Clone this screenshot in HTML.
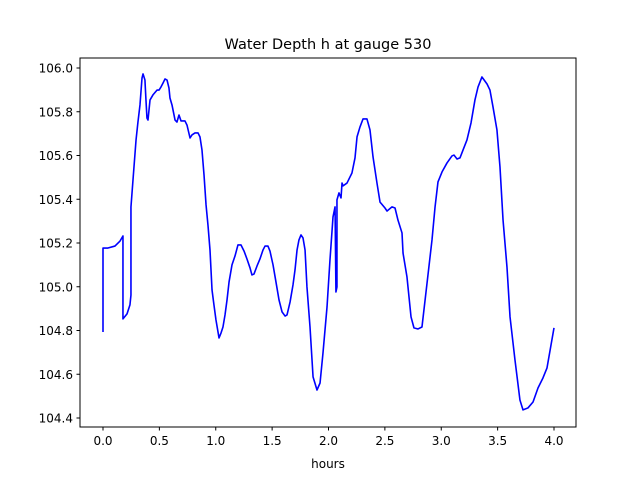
<!DOCTYPE html>
<html><head><meta charset="utf-8"><style>
body{margin:0;background:#fff;}
svg{display:block;font-family:"DejaVu Sans","Liberation Sans",sans-serif;}
</style></head><body>
<svg id="chart" width="640" height="480">
<rect width="640" height="480" fill="#fff"/>
<text x="328" y="49" font-size="14.5" text-anchor="middle">Water Depth h at gauge 530</text>
<g id="xticks"></g>
<g id="yticks"></g>
<path id="line" fill="none" stroke="#0000ff" stroke-width="1.6" stroke-linejoin="round"/>
<rect x="80" y="58" width="496" height="369" fill="none" stroke="#000" stroke-width="1"/>
<text x="328" y="468" font-size="12" text-anchor="middle">hours</text>
</svg>
<script>
const hours=[0,0,0.044,0.106,0.151,0.177,0.177,0.213,0.239,0.248,0.248,0.266,0.293,0.310,0.328,0.346,0.355,0.372,0.381,0.390,0.399,0.417,0.443,0.479,0.497,0.514,0.532,0.550,0.568,0.585,0.594,0.612,0.639,0.656,0.674,0.692,0.727,0.745,0.772,0.789,0.816,0.843,0.860,0.878,0.896,0.914,0.931,0.949,0.967,0.984,1.002,1.029,1.047,1.064,1.082,1.100,1.118,1.144,1.171,1.197,1.224,1.251,1.277,1.304,1.321,1.339,1.366,1.392,1.419,1.437,1.463,1.481,1.508,1.534,1.561,1.588,1.615,1.632,1.659,1.685,1.703,1.721,1.738,1.756,1.774,1.792,1.809,1.836,1.863,1.898,1.925,1.951,1.987,2.013,2.040,2.058,2.066,2.075,2.075,2.093,2.111,2.120,2.129,2.164,2.208,2.235,2.253,2.279,2.306,2.341,2.368,2.395,2.430,2.457,2.501,2.519,2.563,2.590,2.616,2.652,2.661,2.696,2.732,2.758,2.794,2.829,2.874,2.918,2.945,2.971,3.007,3.051,3.095,3.113,3.140,3.166,3.193,3.228,3.264,3.299,3.326,3.361,3.406,3.432,3.459,3.494,3.521,3.548,3.583,3.610,3.654,3.698,3.725,3.769,3.814,3.858,3.902,3.938,4.0];
const depth=[104.793,105.177,105.177,105.186,105.209,105.232,104.853,104.876,104.917,104.962,105.365,105.488,105.671,105.753,105.831,105.954,105.973,105.945,105.854,105.771,105.762,105.854,105.877,105.899,105.899,105.913,105.931,105.950,105.945,105.909,105.863,105.831,105.762,105.753,105.785,105.758,105.758,105.739,105.680,105.694,105.703,105.703,105.685,105.625,105.511,105.374,105.282,105.168,104.985,104.917,104.848,104.766,104.789,104.816,104.871,104.940,105.022,105.100,105.141,105.191,105.191,105.163,105.127,105.086,105.054,105.058,105.095,105.127,105.168,105.186,105.186,105.163,105.100,105.022,104.940,104.885,104.866,104.871,104.930,105.008,105.077,105.168,105.214,105.237,105.223,105.168,104.999,104.816,104.588,104.528,104.560,104.697,104.908,105.122,105.319,105.365,104.976,104.999,105.397,105.429,105.406,105.474,105.461,105.474,105.520,105.589,105.685,105.730,105.767,105.767,105.717,105.593,105.474,105.387,105.360,105.346,105.365,105.360,105.305,105.246,105.154,105.045,104.862,104.812,104.807,104.816,105.017,105.214,105.365,105.479,105.525,105.566,105.598,105.602,105.584,105.589,105.625,105.671,105.749,105.854,105.913,105.959,105.927,105.899,105.822,105.717,105.547,105.305,105.090,104.862,104.665,104.482,104.437,104.446,104.473,104.537,104.583,104.629,104.812];
const xTickLabels=["0.0","0.5","1.0","1.5","2.0","2.5","3.0","3.5","4.0"];
const yTickLabels=["104.4","104.6","104.8","105.0","105.2","105.4","105.6","105.8","106.0"];
function X(h){return 103+h*112.75;}
function Y(v){return 68+(106-v)*218.75;}
const NS="http://www.w3.org/2000/svg";
let d="";
for(let i=0;i<hours.length;i++){d+=(i?"L":"M")+X(hours[i]).toFixed(2)+","+Y(depth[i]).toFixed(2);}
document.getElementById("line").setAttribute("d",d);
const xg=document.getElementById("xticks");
xTickLabels.forEach(function(l){
  const x=X(parseFloat(l));
  const t=document.createElementNS(NS,"line");
  t.setAttribute("x1",x);t.setAttribute("x2",x);t.setAttribute("y1",427);t.setAttribute("y2",430.5);t.setAttribute("stroke","#000");
  
  
  xg.appendChild(t);
  const s=document.createElementNS(NS,"text");
  s.setAttribute("x",x);s.setAttribute("y",445);s.setAttribute("font-size","12");s.setAttribute("text-anchor","middle");
  s.textContent=l;
  
  
  xg.appendChild(s);
});
const yg=document.getElementById("yticks");
yTickLabels.forEach(function(l){
  const y=Y(parseFloat(l));
  const t=document.createElementNS(NS,"line");
  t.setAttribute("x1",76.5);t.setAttribute("x2",80);t.setAttribute("y1",y);t.setAttribute("y2",y);t.setAttribute("stroke","#000");
  
  
  yg.appendChild(t);
  const s=document.createElementNS(NS,"text");
  s.setAttribute("x",73);s.setAttribute("y",y+4.5);s.setAttribute("font-size","12");s.setAttribute("text-anchor","end");
  s.textContent=l;
  
  
  yg.appendChild(s);
});
</script>
</body></html>
